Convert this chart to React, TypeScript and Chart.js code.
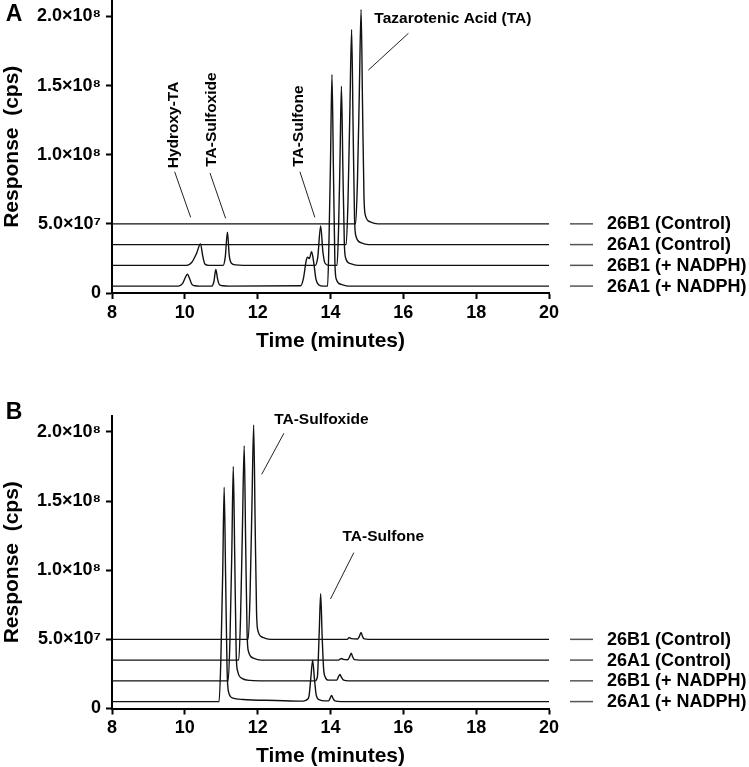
import React, { useEffect, useRef } from 'react';
import { Chart, registerables } from 'chart.js';

Chart.register(...registerables);

const FONT = "'Liberation Sans', Arial, Helvetica, sans-serif";

// ---------- axis data ----------
const timeTicks = [8, 10, 12, 14, 16, 18, 20];
const responseTicks = [0, 5e7, 1e8, 1.5e8, 2e8];
const responseTickLabels = ['0', '5.0×10⁷', '1.0×10⁸', '1.5×10⁸', '2.0×10⁸'];
const responseMax = 2.115e8;

// ---------- series ----------
const seriesNames = ['26B1 (Control)', '26A1 (Control)', '26B1 (+ NADPH)', '26A1 (+ NADPH)'];
const seriesBaselines = [5.0e7, 3.5e7, 2.0e7, 0.5e7];

type Pt = [number, number];

// Panel A  [time (min), response (cps)]
const panelA_26B1_control: Pt[] = [
  [8, 5.0e7], [14.69, 5.0e7], [14.74, 8.1e7], [14.79, 14.3e7], [14.84, 20.5e7], [14.88, 13.5e7],
  [14.92, 6.9e7], [14.96, 5.6e7], [15.09, 5.15e7], [15.3, 5.0e7], [20, 5.0e7],
];
const panelA_26A1_control: Pt[] = [
  [8, 3.5e7], [14.43, 3.5e7], [14.48, 6.6e7], [14.53, 12.9e7], [14.58, 19.05e7], [14.62, 12.1e7],
  [14.66, 5.4e7], [14.7, 4.1e7], [14.83, 3.65e7], [15.05, 3.5e7], [20, 3.5e7],
];
const panelA_26B1_nadph: Pt[] = [
  [8, 2.0e7], [10.05, 2.0e7], [10.2, 2.25e7], [10.32, 2.85e7], [10.43, 3.55e7], [10.49, 2.7e7], [10.55, 2.1e7], [10.65, 2.0e7],
  [11.05, 2.0e7], [11.11, 2.6e7], [11.17, 4.4e7], [11.22, 2.7e7], [11.28, 2.15e7], [11.4, 2.03e7], [11.6, 2.0e7],
  [13.58, 2.0e7], [13.65, 2.6e7], [13.73, 4.85e7], [13.79, 3.0e7], [13.85, 2.15e7], [13.95, 2.0e7],
  [14.18, 2.0e7], [14.22, 4.5e7], [14.26, 9.5e7], [14.3, 14.95e7], [14.34, 9.0e7], [14.38, 3.6e7], [14.42, 2.5e7],
  [14.55, 2.12e7], [14.75, 2.0e7], [20, 2.0e7],
];
const panelA_26A1_nadph: Pt[] = [
  [8, 0.5e7], [9.82, 0.5e7], [9.94, 0.7e7], [10.01, 1.1e7], [10.07, 1.36e7], [10.13, 1.05e7], [10.19, 0.65e7], [10.28, 0.52e7], [10.4, 0.5e7],
  [10.74, 0.5e7], [10.8, 0.85e7], [10.85, 1.71e7], [10.9, 1.0e7], [10.95, 0.6e7], [11.05, 0.52e7], [11.2, 0.5e7],
  [13.18, 0.52e7], [13.26, 1.1e7], [13.33, 2.3e7], [13.37, 2.58e7], [13.42, 2.5e7], [13.48, 2.98e7], [13.54, 2.2e7],
  [13.6, 1.0e7], [13.68, 0.58e7], [13.8, 0.5e7],
  [13.92, 0.5e7], [13.96, 4.0e7], [14.0, 9.5e7], [14.04, 15.8e7], [14.08, 9.0e7], [14.12, 2.3e7], [14.16, 1.0e7],
  [14.3, 0.62e7], [14.5, 0.5e7], [20, 0.5e7],
];

// Panel B
const panelB_26B1_control: Pt[] = [
  [8, 5.0e7], [11.74, 5.0e7], [11.79, 8.1e7], [11.84, 14.3e7], [11.89, 20.5e7], [11.93, 13.5e7], [11.97, 6.9e7],
  [12.01, 5.6e7], [12.14, 5.15e7], [12.35, 5.0e7],
  [14.46, 5.0e7], [14.5, 5.1e7], [14.53, 5.12e7], [14.57, 5.05e7], [14.74, 5.02e7], [14.79, 5.2e7], [14.84, 5.5e7],
  [14.88, 5.2e7], [14.93, 5.03e7], [15.05, 5.0e7], [20, 5.0e7],
];
const panelB_26A1_control: Pt[] = [
  [8, 3.5e7], [11.48, 3.5e7], [11.53, 6.6e7], [11.58, 12.8e7], [11.63, 19.0e7], [11.67, 12.0e7], [11.71, 5.4e7],
  [11.75, 4.1e7], [11.88, 3.65e7], [12.1, 3.5e7],
  [14.22, 3.5e7], [14.27, 3.58e7], [14.31, 3.62e7], [14.35, 3.55e7], [14.47, 3.52e7], [14.52, 3.72e7], [14.57, 3.99e7],
  [14.61, 3.72e7], [14.66, 3.53e7], [14.8, 3.5e7], [20, 3.5e7],
];
const panelB_26B1_nadph: Pt[] = [
  [8, 2.0e7], [11.19, 2.0e7], [11.24, 5.0e7], [11.29, 11.3e7], [11.33, 17.5e7], [11.37, 11.0e7], [11.41, 4.0e7],
  [11.45, 2.7e7], [11.58, 2.16e7], [11.8, 2.03e7], [12.2, 2.0e7],
  [13.58, 2.0e7], [13.64, 2.3e7], [13.69, 5.5e7], [13.73, 8.3e7], [13.77, 5.3e7], [13.81, 2.9e7], [13.86, 2.25e7], [13.95, 2.05e7],
  [14.17, 2.05e7], [14.22, 2.3e7], [14.26, 2.47e7], [14.3, 2.25e7], [14.36, 2.05e7], [14.5, 2.0e7], [20, 2.0e7],
];
const panelB_26A1_nadph: Pt[] = [
  [8, 0.5e7], [10.94, 0.5e7], [10.99, 3.6e7], [11.04, 9.8e7], [11.08, 16.0e7], [11.12, 9.5e7], [11.16, 2.8e7],
  [11.2, 1.2e7], [11.32, 0.75e7], [11.6, 0.65e7], [12.5, 0.58e7], [13.25, 0.53e7],
  [13.32, 0.58e7], [13.36, 0.65e7], [13.41, 0.9e7], [13.46, 2.2e7], [13.51, 3.5e7], [13.56, 2.1e7], [13.61, 0.95e7],
  [13.7, 0.62e7], [13.85, 0.55e7],
  [13.95, 0.55e7], [13.99, 0.75e7], [14.03, 0.95e7], [14.07, 0.72e7], [14.12, 0.55e7], [14.3, 0.5e7], [20, 0.5e7],
];

// ---------- annotations (data units) ----------
type Note = { text: string; at: Pt; vertical: boolean; from: Pt; to: Pt };
const panelA_notes: Note[] = [
  { text: 'Hydroxy-TA', at: [9.7, 1.215e8], vertical: true, from: [9.72, 8.77e7], to: [10.16, 5.47e7] },
  { text: 'TA-Sulfoxide', at: [10.74, 1.254e8], vertical: true, from: [10.69, 8.68e7], to: [11.12, 5.4e7] },
  { text: 'TA-Sulfone', at: [13.12, 1.207e8], vertical: true, from: [13.16, 8.77e7], to: [13.57, 5.47e7] },
  { text: 'Tazarotenic Acid (TA)', at: [17.36, 1.986e8], vertical: false, from: [16.14, 1.878e8], to: [15.04, 1.612e8] },
];
const panelB_notes: Note[] = [
  { text: 'TA-Sulfoxide', at: [13.75, 2.091e8], vertical: false, from: [12.72, 1.99e8], to: [12.11, 1.693e8] },
  { text: 'TA-Sulfone', at: [15.45, 1.242e8], vertical: false, from: [14.64, 1.127e8], to: [14.0, 7.92e7] },
];

type PanelProps = {
  letter: string;
  letterY: number;
  series: Pt[][];
  notes: Note[];
  top: number;
  height: number;
  padTop: number;
  padBottom: number;
  xAxisHeight: number;
  titlePadBottom: number;
};

function Panel({ letter, letterY, series, notes, top, height, padTop, padBottom, xAxisHeight, titlePadBottom }: PanelProps) {
  const ref = useRef<HTMLCanvasElement>(null);

  useEffect(() => {
    const canvas = ref.current;
    if (!canvas) return;

    const overlay = {
      id: 'overlay_' + letter,
      afterDraw(chart: any) {
        const { ctx } = chart;
        const xs = chart.scales.x;
        const ys = chart.scales.y;
        ctx.save();
        ctx.fillStyle = '#000';
        // panel letter
        ctx.font = `bold 23px ${FONT}`;
        ctx.textAlign = 'center';
        ctx.textBaseline = 'middle';
        ctx.fillText(letter, 14, letterY);

        // annotations
        for (const n of notes) {
          ctx.strokeStyle = '#222';
          ctx.lineWidth = 1;
          ctx.beginPath();
          ctx.moveTo(xs.getPixelForValue(n.from[0]), ys.getPixelForValue(n.from[1]));
          ctx.lineTo(xs.getPixelForValue(n.to[0]), ys.getPixelForValue(n.to[1]));
          ctx.stroke();
          const px = xs.getPixelForValue(n.at[0]);
          const py = ys.getPixelForValue(n.at[1]);
          ctx.font = `bold 15.5px ${FONT}`;
          ctx.textAlign = 'center';
          ctx.textBaseline = 'middle';
          if (n.vertical) {
            ctx.save();
            ctx.translate(px, py);
            ctx.rotate(-Math.PI / 2);
            ctx.fillText(n.text, 0, 0);
            ctx.restore();
          } else {
            ctx.fillText(n.text, px, py);
          }
        }

        // legend, aligned with each trace's baseline
        const lx = chart.chartArea.right;
        seriesBaselines.forEach((b, i) => {
          const py = ys.getPixelForValue(b);
          ctx.strokeStyle = '#555';
          ctx.lineWidth = 1.5;
          ctx.beginPath();
          ctx.moveTo(lx + 21, py);
          ctx.lineTo(lx + 44, py);
          ctx.stroke();
          ctx.font = `bold 18px ${FONT}`;
          ctx.textAlign = 'left';
          ctx.textBaseline = 'middle';
          ctx.fillText(seriesNames[i], lx + 58, py + 0.5);
        });
        ctx.restore();
      },
    };

    const chart = new Chart(canvas, {
      type: 'line',
      data: {
        datasets: series.map((s, i) => ({
          label: seriesNames[i],
          data: s.map(([x, y]) => ({ x, y })),
          borderColor: '#111',
          borderWidth: 1.4,
          pointRadius: 0,
          fill: false,
          cubicInterpolationMode: 'monotone' as const,
        })),
      },
      options: {
        animation: false,
        responsive: false,
        events: [],
        layout: { autoPadding: false, padding: { left: 0, right: 200, top: padTop, bottom: padBottom } },
        plugins: { legend: { display: false }, tooltip: { enabled: false } },
        scales: {
          x: {
            type: 'linear',
            min: 8,
            max: 20,
            afterBuildTicks: (s: any) => {
              s.ticks = timeTicks.map((v) => ({ value: v }));
            },
            afterFit: (s: any) => {
              s.height = xAxisHeight;
              s.paddingLeft = 0;
              s.paddingRight = 0;
            },
            grid: { drawOnChartArea: false, drawTicks: true, tickLength: 6, tickWidth: 2, tickColor: '#000' },
            border: { display: true, color: '#000', width: 2 },
            ticks: {
              color: '#000',
              padding: 3,
              maxRotation: 0,
              autoSkip: false,
              font: { family: FONT, size: 18, weight: 'bold' },
              callback: (v: any) => String(v),
            },
            title: {
              display: true,
              text: 'Time (minutes)',
              color: '#000',
              font: { family: FONT, size: 21, weight: 'bold' },
              padding: { top: 0, bottom: titlePadBottom },
            },
          },
          y: {
            type: 'linear',
            min: 0,
            max: responseMax,
            afterBuildTicks: (s: any) => {
              s.ticks = responseTicks.map((v) => ({ value: v }));
            },
            afterFit: (s: any) => {
              s.width = 112;
              s.paddingTop = 0;
              s.paddingBottom = 0;
            },
            grid: { drawOnChartArea: false, drawTicks: true, tickLength: 6, tickWidth: 2, tickColor: '#000' },
            border: { display: true, color: '#000', width: 2 },
            ticks: {
              color: '#000',
              padding: 5,
              autoSkip: false,
              font: { family: FONT, size: 18, weight: 'bold' },
              callback: (_v: any, i: number) => responseTickLabels[i],
            },
            title: {
              display: true,
              text: 'Response  (cps)',
              color: '#000',
              font: { family: FONT, size: 21, weight: 'bold' },
              padding: { top: 0, bottom: 0 },
            },
          },
        },
      } as any,
      plugins: [overlay],
    });

    return () => chart.destroy();
  }, []);

  return (
    <canvas
      ref={ref}
      width={749}
      height={height}
      style={{ position: 'absolute', left: 0, top, width: 749, height }}
    />
  );
}

export default function App() {
  return (
    <div style={{ position: 'absolute', left: 0, top: 0, width: 749, height: 767, background: '#fff' }}>
      <Panel
        letter="A"
        letterY={15}
        series={[panelA_26B1_control, panelA_26A1_control, panelA_26B1_nadph, panelA_26A1_nadph]}
        notes={panelA_notes}
        top={0}
        height={383}
        padTop={0.5}
        padBottom={30}
        xAxisHeight={60}
        titlePadBottom={-1}
      />
      <Panel
        letter="B"
        letterY={30}
        series={[panelB_26B1_control, panelB_26A1_control, panelB_26B1_nadph, panelB_26A1_nadph]}
        notes={panelB_notes}
        top={383}
        height={384}
        padTop={33}
        padBottom={0}
        xAxisHeight={58.5}
        titlePadBottom={-2}
      />
    </div>
  );
}
